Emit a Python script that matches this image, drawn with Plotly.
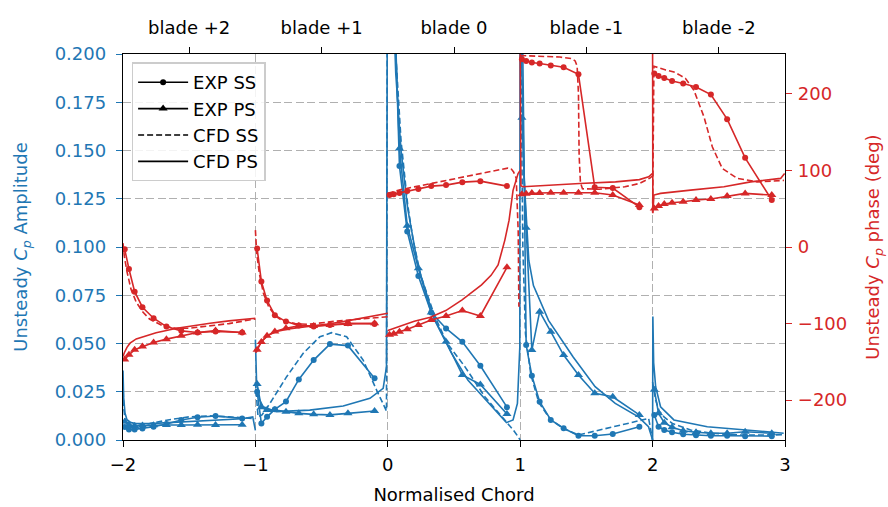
import plotly.graph_objects as go

BLUE = '#1f77b4'
RED = '#d62728'
FONT = 'DejaVu Sans'

# Blade passages along the unwrapped chord coordinate
BLADES = ['blade +2', 'blade +1', 'blade 0', 'blade -1', 'blade -2']
BLADE_START = [-2, -1, 0, 1, 2]

# Experimental tapping positions (fraction of chord)
EXP_CHORD = [0.013, 0.045, 0.088, 0.147, 0.231, 0.328, 0.44, 0.563, 0.699, 0.9]

# Experimental amplitude, one list per blade (+2, +1, 0, -1, -2)
exp_ss_amp = [
    [0.0068, 0.0055, 0.0055, 0.006, 0.0069, 0.0083, 0.0104, 0.0118, 0.0124, 0.0112],
    [0.025, 0.0086, 0.012, 0.0159, 0.0199, 0.0314, 0.0414, 0.0497, 0.0489, 0.032],
    [0.33, 0.24, 0.142, 0.108, 0.085, 0.066, 0.0578, 0.0509, 0.0385, 0.017],
    [0.24, 0.0492, 0.0333, 0.0198, 0.0104, 0.0061, 0.0022, 0.0022, 0.0031, 0.0069],
    [0.013, 0.0069, 0.0052, 0.004, 0.003, 0.0025, 0.0022, 0.0022, 0.002, 0.002],
]
exp_ps_amp = [
    [0.0095, 0.0078, 0.0073, 0.0075, 0.0077, 0.0078, 0.0078, 0.0079, 0.0078, 0.0079],
    [0.029, 0.017, 0.0155, 0.0155, 0.0147, 0.0138, 0.0133, 0.013, 0.0138, 0.015],
    [0.3, 0.23, 0.151, 0.111, 0.089, 0.066, 0.0509, 0.0337, 0.0288, 0.0135],
    [0.167, 0.110, 0.0466, 0.0665, 0.0561, 0.044, 0.0337, 0.0242, 0.0224, 0.013],
    [0.026, 0.0138, 0.009, 0.0066, 0.0048, 0.004, 0.0035, 0.0035, 0.0043, 0.0035],
]

# Experimental phase (deg)
exp_ss_ph = [
    [-3, -28.7, -58.3, -78.6, -93, -103.9, -109.5, -111.7, -110.4, -111.7],
    [-2, -45, -70, -89, -97.4, -102.6, -103.9, -101.7, -99.5, -100.4],
    [67.8, 69, 70.4, 73, 75.6, 79.5, 80.8, 84.7, 86, 79.5],
    [245, 243, 241, 239.5, 237, 234.7, 225.5, 78, 77, 52],
    [226.5, 223.3, 220.7, 216.8, 213.4, 209, 199, 166.9, 116.4, 61.3],
]
exp_ps_ph = [
    [-147, -140.8, -134, -130, -124.7, -120.3, -116, -111.7, -109, -111.7],
    [-134, -124, -116, -110.4, -106, -103, -103, -101.7, -100.4, -99.5],
    [-114.7, -113.4, -110.6, -107.5, -101.7, -95.2, -90, -83, -90, -26.5],
    [69, 69.5, 70.5, 70.5, 70.8, 70.8, 70.8, 70.8, 67.8, 54.8],
    [50.4, 53.4, 56, 57.8, 59, 61.3, 62.6, 66.5, 70, 67.8],
]

# CFD amplitude, suction side
cfd_ss_amp_chord = [
    [0, 0.005, 0.015, 0.03, 0.06, 0.1, 0.2, 0.35, 0.5, 0.65, 0.8, 0.95, 1.0],
    [0, 0.02, 0.05, 0.11, 0.236, 0.361, 0.487, 0.575, 0.689, 0.814, 0.915, 0.978, 0.99, 1.0],
    [0.0, 0.01, 0.03, 0.06, 0.1, 0.15, 0.191, 0.25, 0.355, 0.45, 0.582, 0.733, 0.884, 0.95, 0.984, 1.0],
    [0, 0.005, 0.02, 0.04, 0.08, 0.14, 0.23, 0.33, 0.44, 0.55, 0.7, 0.85, 0.97, 1.0],
    [0, 0.023, 0.05, 0.086, 0.15, 0.287, 0.45, 0.665, 0.85, 1.0],
]
cfd_ss_amp = [
    [0.03, 0.017, 0.011, 0.0085, 0.0075, 0.0075, 0.0085, 0.0105, 0.012, 0.0125, 0.012, 0.0113, 0.011],
    [0.03, 0.012, 0.013, 0.019, 0.0328, 0.0449, 0.0535, 0.0556, 0.0535, 0.0414, 0.0259, 0.0164, 0.015, 0.35],
    [0.4, 0.32, 0.25, 0.2, 0.155, 0.122, 0.1036, 0.085, 0.064, 0.05, 0.038, 0.0224, 0.0104, 0.005, 0.0017, 0.0],
    [0.35, 0.2, 0.1, 0.055, 0.034, 0.0195, 0.0105, 0.0058, 0.0026, 0.0045, 0.0068, 0.0092, 0.0112, 0.0],
    [0.03, 0.0207, 0.015, 0.012, 0.0085, 0.0052, 0.0035, 0.0026, 0.0026, 0.0027],
]

# CFD amplitude, pressure side
cfd_ps_amp_chord = [
    [0, 0.005, 0.015, 0.03, 0.06, 0.1, 0.2, 0.35, 0.5, 0.7, 0.9, 0.98, 1.0],
    [0, 0.009, 0.03, 0.059, 0.16, 0.41, 0.663, 0.865, 0.965, 0.99, 1.0],
    [0, 0.01, 0.03, 0.06, 0.1, 0.15, 0.229, 0.355, 0.481, 0.606, 0.733, 0.833, 0.896, 0.946, 0.979, 0.997, 1.0],
    [0, 0.01, 0.03, 0.05, 0.065, 0.1, 0.214, 0.4, 0.566, 0.718, 0.893, 0.969, 1.0],
    [0, 0.002, 0.008, 0.023, 0.06, 0.161, 0.413, 0.665, 0.99],
]
cfd_ps_amp = [
    [0.036, 0.022, 0.014, 0.0105, 0.009, 0.0085, 0.0085, 0.009, 0.0095, 0.0102, 0.011, 0.012, 0.005],
    [0.052, 0.0295, 0.021, 0.0172, 0.0147, 0.0155, 0.0176, 0.0216, 0.0268, 0.038, 0.35],
    [0.4, 0.32, 0.25, 0.19, 0.15, 0.12, 0.0898, 0.062, 0.045, 0.031, 0.0216, 0.0138, 0.009, 0.0104, 0.019, 0.048, 0.35],
    [0.35, 0.2, 0.135, 0.11, 0.093, 0.08, 0.062, 0.043, 0.0276, 0.019, 0.012, 0.0069, 0.0],
    [0.0, 0.064, 0.04, 0.0276, 0.0172, 0.0104, 0.0069, 0.0055, 0.0035],
]

# CFD phase (deg), suction side
cfd_ss_ph_chord = [
    [0, 0.01, 0.03, 0.06, 0.1, 0.15, 0.2, 0.3, 0.4, 0.5, 0.6, 0.8, 1.0],
    [0, 0.003, 0.01, 0.03, 0.06, 0.1, 0.15, 0.2, 0.3, 0.4, 0.5, 0.6, 0.8, 1.0],
    [0, 0.02, 0.1, 0.2, 0.3, 0.4, 0.5, 0.6, 0.7, 0.8, 0.906, 0.93, 0.95, 0.97, 0.985, 0.99],
    [0, 0.1, 0.2, 0.3, 0.39, 0.415, 0.43, 0.44, 0.445, 0.455, 0.47, 0.6, 0.79, 0.9, 0.98, 1.0],
    [0, 0.01, 0.1, 0.161, 0.2, 0.249, 0.312, 0.388, 0.451, 0.526, 0.64, 0.791, 0.992],
]
cfd_ss_ph = [
    [5, -12, -32, -55, -72, -85, -94, -103, -106, -106, -104, -100, -94],
    [22, 5, -8, -35, -60, -78, -90, -96, -100, -101, -99, -97, -94, -91],
    [70, 71, 75, 78.5, 82, 85.5, 89, 92.5, 96, 99.5, 103, 102.5, 98, 90, 20, -78],
    [250, 249.5, 249, 248, 246, 243, 236, 200, 120, 84, 76, 75.5, 78.6, 83, 90, 93],
    [45, 236, 231, 228.6, 225, 220, 204.7, 170, 130.8, 102.6, 89.6, 85, 87],
]

# CFD phase (deg), pressure side
cfd_ps_ph_chord = [
    [0, 0.01, 0.03, 0.053, 0.1, 0.153, 0.25, 0.406, 0.55, 0.657, 0.8, 1.0],
    [0, 0.01, 0.03, 0.059, 0.1, 0.16, 0.25, 0.41, 0.55, 0.663, 0.8, 0.95, 1.0],
    [0, 0.05, 0.1, 0.2, 0.322, 0.438, 0.561, 0.708, 0.78, 0.833, 0.884, 0.916, 0.946, 0.984, 1.0],
    [0, 0.005, 0.02, 0.21, 0.45, 0.72, 0.9, 0.97, 1.0],
    [0, 0.002, 0.01, 0.06, 0.287, 0.539, 0.74, 0.967, 0.997],
]
cfd_ps_ph = [
    [-143, -138, -131, -125.6, -120, -117, -112, -106, -102, -99.5, -96.5, -93],
    [-138, -136.5, -128, -121, -115, -110.4, -107, -104, -100.5, -97.4, -93, -88, -86.5],
    [-109, -106, -103, -97, -91.7, -83, -69, -49.5, -37, -23.5, 9, 35, 74, 96, 100],
    [255, 80, 78.6, 80.8, 83, 85, 88, 91.7, 96],
    [255, 44, 67.8, 70, 74.3, 78.6, 85, 89.6, 96],
]


def join(chords, values):
    """Place each blade's chordwise data on the unwrapped axis, gaps between blades."""
    xs, ys = [], []
    for start, c, v in zip(BLADE_START, chords, values):
        xs += [start + ci for ci in c] + [None]
        ys += list(v) + [None]
    return xs, ys


exp_chords = [EXP_CHORD] * len(BLADES)
LW = 1.6
DASH = '6px,3px'

fig = go.Figure()


def add(chords, values, color, yaxis, mode, symbol=None, size=None, dash='solid'):
    x, y = join(chords, values)
    kw = dict(x=x, y=y, mode=mode, yaxis=yaxis, showlegend=False, hoverinfo='skip',
              line=dict(color=color, width=LW, dash=dash))
    if symbol:
        kw['marker'] = dict(symbol=symbol, size=size, color=color, line=dict(width=0))
    fig.add_trace(go.Scatter(**kw))


# amplitude on the left axis
add(exp_chords, exp_ss_amp, BLUE, 'y', 'lines+markers', 'circle', 6)
add(exp_chords, exp_ps_amp, BLUE, 'y', 'lines+markers', 'triangle-up', 8)
add(cfd_ss_amp_chord, cfd_ss_amp, BLUE, 'y', 'lines', dash=DASH)
add(cfd_ps_amp_chord, cfd_ps_amp, BLUE, 'y', 'lines')

# phase on the right axis
add(exp_chords, exp_ss_ph, RED, 'y2', 'lines+markers', 'circle', 6)
add(exp_chords, exp_ps_ph, RED, 'y2', 'lines+markers', 'triangle-up', 8)
add(cfd_ss_ph_chord, cfd_ss_ph, RED, 'y2', 'lines', dash=DASH)
add(cfd_ps_ph_chord, cfd_ps_ph, RED, 'y2', 'lines')

# legend keys in black
for name, mode, sym, size, dash in [
    ('EXP SS', 'lines+markers', 'circle', 6, 'solid'),
    ('EXP PS', 'lines+markers', 'triangle-up', 8, 'solid'),
    ('CFD SS', 'lines', None, None, DASH),
    ('CFD PS', 'lines', None, None, 'solid'),
]:
    kw = dict(x=[None], y=[None], mode=mode, name=name,
              line=dict(color='black', width=LW, dash=dash))
    if sym:
        kw['marker'] = dict(symbol=sym, size=size, color='black')
    fig.add_trace(go.Scatter(**kw))

# carrier for the top blade axis
fig.add_trace(go.Scatter(x=[-2, 3], y=[None, None], xaxis='x2', yaxis='y',
                         mode='lines', showlegend=False, hoverinfo='skip'))

GRID = '#b0b0b0'
GRID_DASH = '8px,3.5px'
SPINE = 1.4

fig.update_layout(
    width=888, height=507,
    margin=dict(l=123, r=103, t=54, b=67, autoexpand=False),
    paper_bgcolor='white', plot_bgcolor='white',
    font=dict(family=FONT, size=18, color='black'),
    xaxis=dict(
        range=[-2, 3], tickvals=[-2, -1, 0, 1, 2, 3], automargin=False,
        ticks='outside', ticklen=6, tickwidth=SPINE, tickcolor='black',
        showline=True, linecolor='black', linewidth=SPINE,
        showgrid=True, gridcolor=GRID, griddash=GRID_DASH, gridwidth=1.4,
        zeroline=False, ticklabelstandoff=2,
        title=dict(text='Normalised Chord', standoff=14, font=dict(size=18)),
    ),
    xaxis2=dict(
        overlaying='x', side='top', anchor='y', range=[-2, 3], automargin=False,
        tickvals=[s + 0.5 for s in BLADE_START], ticktext=BLADES,
        ticks='outside', ticklen=6, tickwidth=SPINE, tickcolor='black',
        showline=True, linecolor='black', linewidth=SPINE,
        showgrid=False, zeroline=False, ticklabelstandoff=6,
    ),
    yaxis=dict(
        range=[0, 0.2], tickvals=[i * 0.025 for i in range(9)], tickformat='.3f',
        automargin=False,
        ticks='outside', ticklen=6, tickwidth=SPINE, tickcolor=BLUE,
        tickfont=dict(color=BLUE), ticklabelstandoff=6,
        showline=True, linecolor='black', linewidth=SPINE,
        showgrid=True, gridcolor=GRID, griddash=GRID_DASH, gridwidth=1.4,
        zeroline=False,
        title=dict(text='Unsteady <i>C<sub>p</sub></i> Amplitude', standoff=22,
                   font=dict(color=BLUE, size=18)),
    ),
    yaxis2=dict(
        overlaying='y', side='right', anchor='x', range=[-252, 252],
        tickvals=[-200, -100, 0, 100, 200], automargin=False,
        ticks='outside', ticklen=6, tickwidth=SPINE, tickcolor=RED,
        tickfont=dict(color=RED), ticklabelstandoff=2,
        showline=True, linecolor='black', linewidth=SPINE,
        showgrid=False, zeroline=False,
        title=dict(text='Unsteady <i>C<sub>p</sub></i> phase (deg)', standoff=20,
                   font=dict(color=RED, size=18)),
    ),
    legend=dict(
        x=0.013, y=0.978, xanchor='left', yanchor='top',
        bgcolor='rgba(255,255,255,0.85)', bordercolor='#cccccc', borderwidth=1.5,
        font=dict(size=18), itemwidth=50, tracegroupgap=0,
    ),
)

fig.write_html('out.html')
